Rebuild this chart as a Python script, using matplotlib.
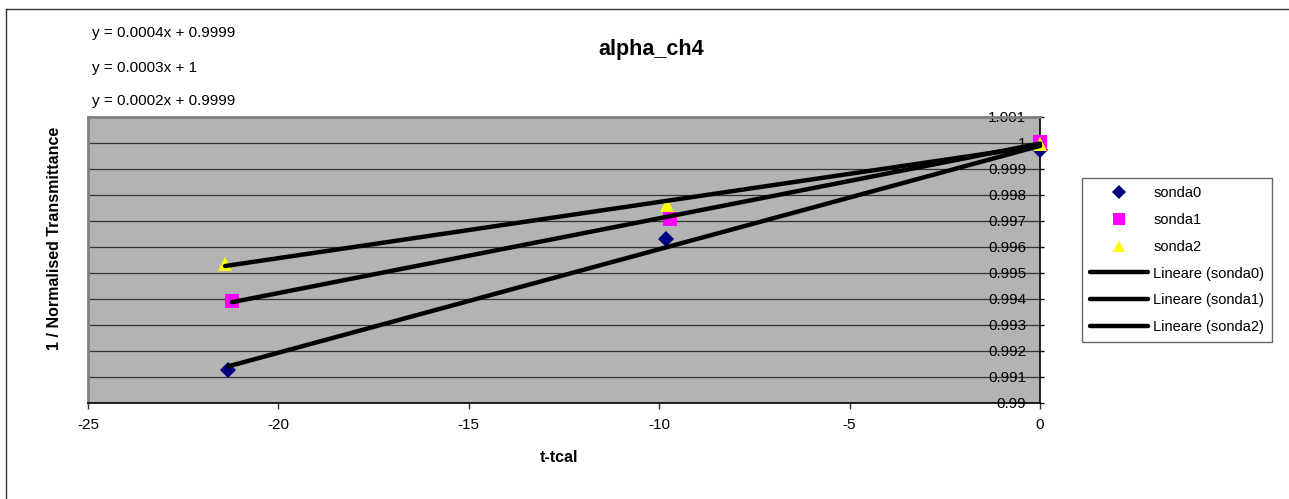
import numpy as np
import matplotlib
matplotlib.use("Agg")
import matplotlib.pyplot as plt
from matplotlib.ticker import MultipleLocator, FuncFormatter
from matplotlib.lines import Line2D

plt.rcParams['font.family'] = ['Liberation Sans', 'DejaVu Sans']

# values
t_sonda0 = [-21.32, -9.81, 0.0]
y_sonda0 = [0.99127, 0.99629, 0.99973]
t_sonda1 = [-21.22, -9.72, 0.0]
y_sonda1 = [0.99392, 0.99709, 1.00003]
t_sonda2 = [-21.40, -9.80, 0.0]
y_sonda2 = [0.99534, 0.99762, 0.99998]

series_names = ["sonda0", "sonda1", "sonda2"]
equations = ["y = 0.0004x + 0.9999", "y = 0.0003x + 1", "y = 0.0002x + 0.9999"]

W, H = 1289, 499
fig = plt.figure(figsize=(W/100, H/100), dpi=100)
fig.patch.set_facecolor("white")

ax = fig.add_axes([88/W, 1 - 403/H, (1040-88)/W, (403-117)/H])
ax.set_facecolor("#b3b3b3")

styles = [
    dict(marker="D", color="#000080", ms=8.5),
    dict(marker="s", color="#ff00ff", ms=10),
    dict(marker="^", color="#ffff00", ms=10),
]
data = [(t_sonda0, y_sonda0), (t_sonda1, y_sonda1), (t_sonda2, y_sonda2)]

handles = []
for (t, y), st, name in zip(data, styles, series_names):
    h, = ax.plot(t, y, linestyle="none", marker=st["marker"], color=st["color"],
                 markersize=st["ms"], markeredgewidth=0, clip_on=False, zorder=3,
                 label=name)
    handles.append(h)

line_handles = []
for (t, y), name in zip(data, series_names):
    k, b = np.polyfit(t, y, 1)
    xs = np.array([min(t), max(t)])
    h, = ax.plot(xs, k*xs + b, color="black", lw=3.2, solid_capstyle="round",
                 zorder=4, clip_on=False, label="Lineare (%s)" % name)
    line_handles.append(h)

ax.set_xlim(-25, 0)
ax.set_ylim(0.99, 1.001)
ax.xaxis.set_major_locator(MultipleLocator(5))
ax.yaxis.set_major_locator(MultipleLocator(0.001))
ax.yaxis.set_major_formatter(FuncFormatter(lambda v, p: "%g" % round(v, 4)))
ax.xaxis.set_major_formatter(FuncFormatter(lambda v, p: "%g" % v))
ax.grid(axis="y", color="#333333", lw=0.9)
ax.set_axisbelow(True)

ax.tick_params(axis="x", direction="out", length=4, width=1, color="#333333",
               labelsize=11, pad=7)
ax.tick_params(axis="y", direction="out", length=3, width=1, left=False, right=True,
               labelleft=False, labelright=True, labelsize=11, pad=-13)
for lbl in ax.get_yticklabels():
    lbl.set_horizontalalignment("right")

for side in ["left", "top"]:
    ax.spines[side].set_color("#808080")
    ax.spines[side].set_linewidth(2)
ax.spines["bottom"].set_color("black")
ax.spines["bottom"].set_linewidth(1.2)
ax.spines["right"].set_color("black")
ax.spines["right"].set_linewidth(1.2)

fig.text(651/W, 1 - 50/H, "alpha_ch4", ha="center", va="center",
         fontsize=15.5, fontweight="bold")
for txt, yy in zip(equations, [33, 68, 101]):
    fig.text(92/W, 1 - yy/H, txt, ha="left", va="center", fontsize=11)
fig.text(559/W, 1 - 457/H, "t-tcal", ha="center", va="center",
         fontsize=11.5, fontweight="bold")
fig.text(55/W, 1 - 238/H, "1 / Normalised Transmittance", ha="center", va="center",
         rotation=90, fontsize=11.5, fontweight="bold")

leg = fig.legend(handles + line_handles, [h.get_label() for h in handles + line_handles],
                 loc="upper left", bbox_to_anchor=(1082/W, 1 - 178/H),
                 bbox_transform=fig.transFigure, borderaxespad=0,
                 fontsize=10.5, frameon=True, fancybox=False, borderpad=0.55,
                 handlelength=4.0, handletextpad=0.35, labelspacing=0.88,
                 markerscale=0.85)
leg.get_frame().set_edgecolor("#444444")
leg.get_frame().set_linewidth(1)

# outer chart border (only left and top visible)
fig.add_artist(Line2D([6/W, 6/W], [0, 1 - 9/H], transform=fig.transFigure,
                      color="#333333", lw=1))
fig.add_artist(Line2D([6/W, 1], [1 - 9/H, 1 - 9/H], transform=fig.transFigure,
                      color="#333333", lw=1))

fig.savefig("out.png", dpi=100)
